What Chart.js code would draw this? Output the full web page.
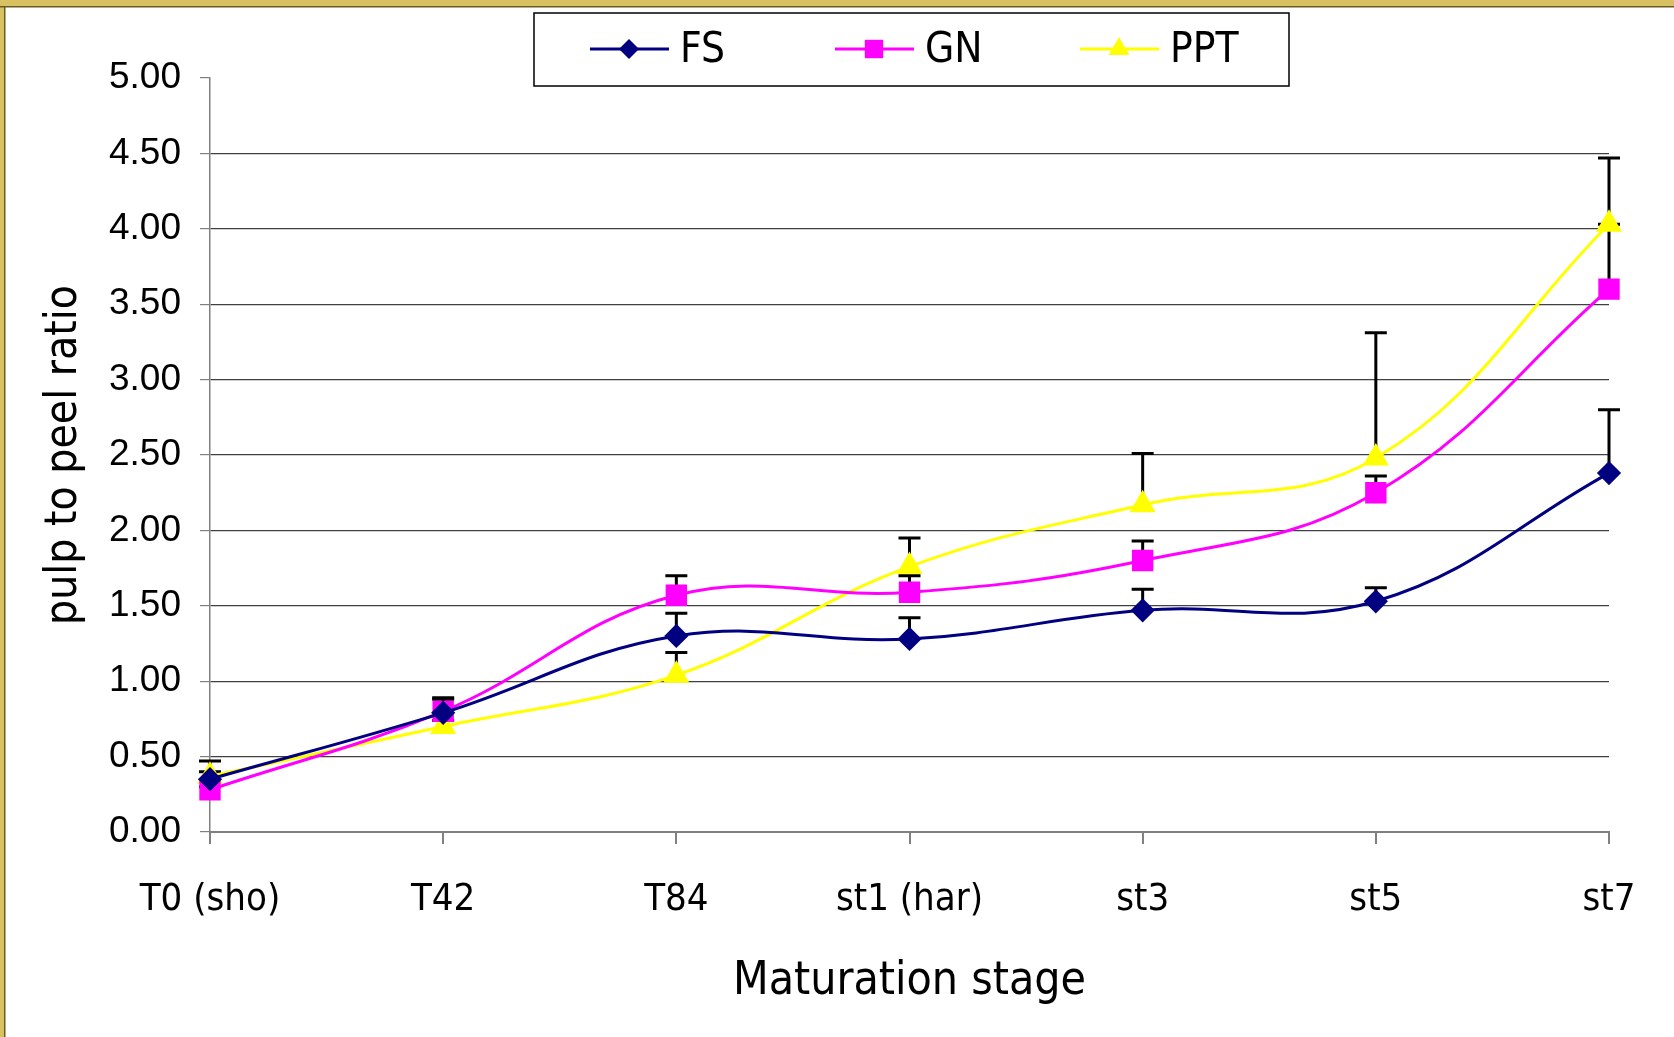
<!DOCTYPE html>
<html>
<head>
<meta charset="utf-8">
<title>pulp to peel ratio</title>
<script src="https://cdn.jsdelivr.net/npm/chart.js@4.4.1/dist/chart.umd.min.js"></script>
<style>
  html, body { margin: 0; padding: 0; background: #fff; }
  #wrap { position: relative; width: 1674px; height: 1037px; }
</style>
</head>
<body>
<div id="wrap"><canvas id="ratioChart"></canvas></div>
<script>
// Data
const stages = ['T0 (sho)', 'T42', 'T84', 'st1 (har)', 'st3', 'st5', 'st7'];
const yTicks = [0, 0.5, 1, 1.5, 2, 2.5, 3, 3.5, 4, 4.5, 5];

const fsValues  = [0.35, 0.79, 1.30, 1.28, 1.47, 1.53, 2.38];
const gnValues  = [0.28, 0.80, 1.57, 1.59, 1.80, 2.25, 3.60];
const pptValues = [0.37, 0.70, 1.04, 1.76, 2.17, 2.48, 4.03];

// upper error bars (plus only)
const fsErr  = [0.12, 0.09, 0.15, 0.14, 0.14, 0.09, 0.42];
const gnErr  = [0.02, 0.09, 0.13, 0.11, 0.13, 0.11, 0.43];
const pptErr = [0.03, 0.04, 0.15, 0.19, 0.34, 0.83, 0.44];

const comic = "'DejaVu Sans Condensed', 'DejaVu Sans', sans-serif";

// Frame + white background
const frame = {
    id: 'frame',
    beforeDraw(chart) {
        const { ctx, width, height } = chart;
        ctx.save();
        ctx.fillStyle = '#fff';
        ctx.fillRect(0, 0, width, height);
        ctx.fillStyle = '#d8c160';
        ctx.fillRect(0, 0, width, 7);
        ctx.fillRect(0, 0, 5, height);
        ctx.fillStyle = '#6b5d20';
        ctx.fillRect(0, 6, width, 1.5);
        ctx.fillRect(4, 6, 1.5, height);
        ctx.restore();
    }
};

// Plus error bars
const errorBars = {
    id: 'errorBars',
    beforeDatasetsDraw(chart) {
        const { ctx } = chart;
        const x = chart.scales.x, y = chart.scales.y;
        ctx.save();
        ctx.strokeStyle = '#000';
        ctx.lineWidth = 3;
        chart.data.datasets.forEach(ds => {
            ds.data.forEach((v, i) => {
                const px = x.getPixelForValue(i);
                const y0 = y.getPixelForValue(v);
                const y1 = y.getPixelForValue(v + ds.errors[i]);
                ctx.beginPath();
                ctx.moveTo(px, y0);
                ctx.lineTo(px, y1);
                ctx.moveTo(px - 11, y1);
                ctx.lineTo(px + 11, y1);
                ctx.stroke();
            });
        });
        ctx.restore();
    }
};

// Boxed legend with line + marker symbols
const boxLegend = {
    id: 'boxLegend',
    afterDraw(chart) {
        const { ctx } = chart;
        ctx.save();
        ctx.strokeStyle = '#000';
        ctx.lineWidth = 1.5;
        ctx.fillStyle = '#fff';
        ctx.fillRect(534, 13, 755, 73);
        ctx.strokeRect(534, 13, 755, 73);
        const cy = 49;
        chart.data.datasets.forEach((ds, i) => {
            const x0 = 590 + i * 245;
            ctx.strokeStyle = ds.borderColor;
            ctx.lineWidth = 3;
            ctx.beginPath();
            ctx.moveTo(x0, cy);
            ctx.lineTo(x0 + 79, cy);
            ctx.stroke();
            ctx.fillStyle = ds.pointBackgroundColor;
            Chart.helpers.drawPoint(ctx, {
                pointStyle: ds.pointStyle, radius: ds.pointRadius, rotation: 0, borderWidth: 0
            }, x0 + 39, cy);
            ctx.fillStyle = '#000';
            ctx.font = '42px ' + comic;
            ctx.textBaseline = 'middle';
            ctx.textAlign = 'left';
            ctx.fillText(ds.label, x0 + 90, cy + 2);
        });
        ctx.restore();
    }
};

new Chart(document.getElementById('ratioChart'), {
    type: 'line',
    data: {
        labels: stages,
        datasets: [
            {
                label: 'FS',
                data: fsValues,
                errors: fsErr,
                borderColor: '#000080',
                pointBackgroundColor: '#000080',
                pointBorderColor: '#000080',
                pointStyle: 'rectRot',
                pointRadius: 10,
                borderWidth: 3,
                tension: 0.4
            },
            {
                label: 'GN',
                data: gnValues,
                errors: gnErr,
                borderColor: '#ff00ff',
                pointBackgroundColor: '#ff00ff',
                pointBorderColor: '#ff00ff',
                pointStyle: 'rect',
                pointRadius: 13,
                borderWidth: 3,
                tension: 0.4
            },
            {
                label: 'PPT',
                data: pptValues,
                errors: pptErr,
                borderColor: '#ffff00',
                pointBackgroundColor: '#ffff00',
                pointBorderColor: '#ffff00',
                pointStyle: 'triangle',
                pointRadius: 12,
                borderWidth: 3,
                tension: 0.4
            }
        ]
    },
    options: {
        responsive: true,
        maintainAspectRatio: false,
        animation: false,
        layout: { padding: { top: 78, right: 65, left: 0, bottom: 0 } },
        plugins: {
            legend: { display: false },
            tooltip: { enabled: false }
        },
        scales: {
            x: {
                offset: false,
                afterFit: s => { s.height = 205; },
                grid: {
                    drawOnChartArea: false,
                    color: '#808080',
                    tickColor: '#808080',
                    tickLength: 12,
                    lineWidth: 2
                },
                border: { color: '#808080', width: 2 },
                ticks: {
                    color: '#000',
                    padding: 33,
                    maxRotation: 0,
                    font: { family: comic, size: 38 }
                },
                title: {
                    display: true,
                    text: 'Maturation stage',
                    color: '#000',
                    font: { family: comic, size: 46 },
                    padding: { top: 0, bottom: 27 }
                }
            },
            y: {
                min: 0,
                max: 5,
                afterFit: s => { s.width = 210; },
                afterBuildTicks: s => { s.ticks = yTicks.map(v => ({ value: v })); },
                grid: {
                    color: c => (c.tick && c.tick.value === 5) ? 'rgba(0,0,0,0)' : '#404040',
                    tickColor: '#808080',
                    tickLength: 10,
                    lineWidth: 1.2
                },
                border: { color: '#808080', width: 1.5 },
                ticks: {
                    color: '#000',
                    padding: 19,
                    font: { family: "'Liberation Sans', Arial, sans-serif", size: 37 },
                    callback: v => Number(v).toFixed(2)
                },
                title: {
                    display: true,
                    text: 'pulp to peel ratio',
                    color: '#000',
                    font: { family: comic, size: 44 },
                    padding: { top: 38, bottom: 0 }
                }
            }
        }
    },
    plugins: [frame, errorBars, boxLegend]
});
</script>
</body>
</html>
